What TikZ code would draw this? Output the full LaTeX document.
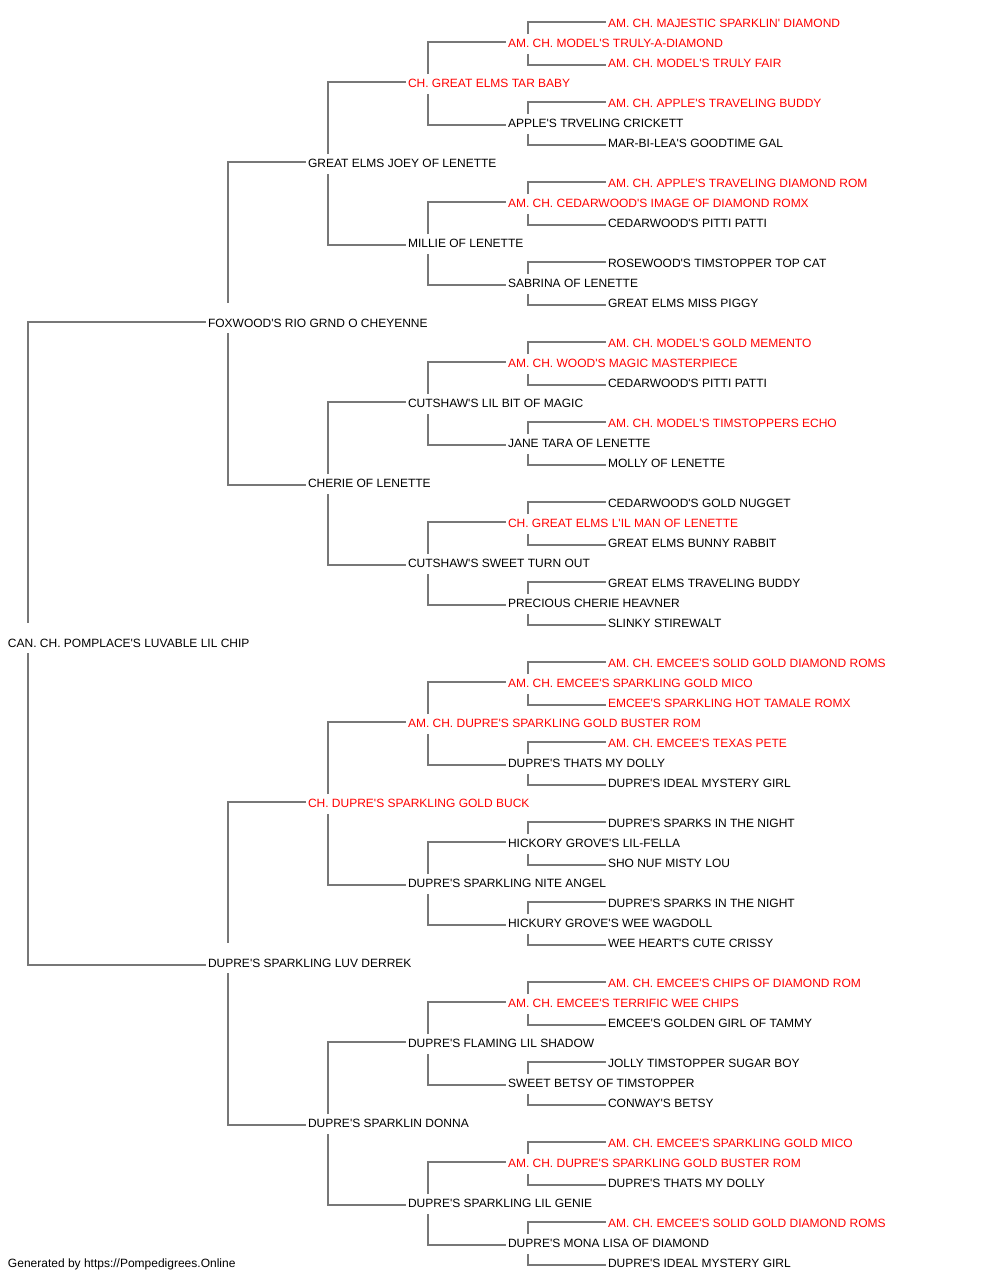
\documentclass[tikz,border=0pt]{standalone}
\usepackage{fontspec}
\setmainfont{Liberation Sans}[Ligatures=TeXOff]
\usepackage{xcolor}
\usepackage{tikz}
\definecolor{tiegray}{RGB}{119,119,119}
\definecolor{champred}{RGB}{255,0,0}

\begin{document}
\begin{tikzpicture}[
  x=1pt, y=-1pt,
  entry/.style={anchor=base west, yshift=-3.5pt, inner xsep=2pt, inner ysep=4.5pt, outer sep=0pt, text height=9pt, text depth=2pt, font=\fontsize{12}{14}\selectfont},
  headentry/.style={entry, inner ysep=3.5pt, text height=21pt},
  champ/.style={text=champred},
  tie/.style={draw=tiegray, line width=1.8pt}
]
  \useasboundingbox (0,0) rectangle (1000,1280);

  \node[headentry] (p) at (6,644) {CAN. CH. POMPLACE'S LUVABLE LIL CHIP};

  \node[headentry] (ps) at (206,324) {FOXWOOD'S RIO GRND O CHEYENNE};
  \node[headentry] (pd) at (206,964) {DUPRE'S SPARKLING LUV DERREK};

  \node[entry] (pss) at (306,164) {GREAT ELMS JOEY OF LENETTE};
  \node[entry] (psd) at (306,484) {CHERIE OF LENETTE};
  \node[entry, champ] (pds) at (306,804) {CH. DUPRE'S SPARKLING GOLD BUCK};
  \node[entry] (pdd) at (306,1124) {DUPRE'S SPARKLIN DONNA};

  \node[entry, champ] (psss) at (406,84) {CH. GREAT ELMS TAR BABY};
  \node[entry] (pssd) at (406,244) {MILLIE OF LENETTE};
  \node[entry] (psds) at (406,404) {CUTSHAW'S LIL BIT OF MAGIC};
  \node[entry] (psdd) at (406,564) {CUTSHAW'S SWEET TURN OUT};
  \node[entry, champ] (pdss) at (406,724) {AM. CH. DUPRE'S SPARKLING GOLD BUSTER ROM};
  \node[entry] (pdsd) at (406,884) {DUPRE'S SPARKLING NITE ANGEL};
  \node[entry] (pdds) at (406,1044) {DUPRE'S FLAMING LIL SHADOW};
  \node[entry] (pddd) at (406,1204) {DUPRE'S SPARKLING LIL GENIE};

  \node[entry, champ] (pssss) at (506,44) {AM. CH. MODEL'S TRULY-A-DIAMOND};
  \node[entry] (psssd) at (506,124) {APPLE'S TRVELING CRICKETT};
  \node[entry, champ] (pssds) at (506,204) {AM. CH. CEDARWOOD'S IMAGE OF DIAMOND ROMX};
  \node[entry] (pssdd) at (506,284) {SABRINA OF LENETTE};
  \node[entry, champ] (psdss) at (506,364) {AM. CH. WOOD'S MAGIC MASTERPIECE};
  \node[entry] (psdsd) at (506,444) {JANE TARA OF LENETTE};
  \node[entry, champ] (psdds) at (506,524) {CH. GREAT ELMS L'IL MAN OF LENETTE};
  \node[entry] (psddd) at (506,604) {PRECIOUS CHERIE HEAVNER};
  \node[entry, champ] (pdsss) at (506,684) {AM. CH. EMCEE'S SPARKLING GOLD MICO};
  \node[entry] (pdssd) at (506,764) {DUPRE'S THATS MY DOLLY};
  \node[entry] (pdsds) at (506,844) {HICKORY GROVE'S LIL-FELLA};
  \node[entry] (pdsdd) at (506,924) {HICKURY GROVE'S WEE WAGDOLL};
  \node[entry, champ] (pddss) at (506,1004) {AM. CH. EMCEE'S TERRIFIC WEE CHIPS};
  \node[entry] (pddsd) at (506,1084) {SWEET BETSY OF TIMSTOPPER};
  \node[entry, champ] (pddds) at (506,1164) {AM. CH. DUPRE'S SPARKLING GOLD BUSTER ROM};
  \node[entry] (pdddd) at (506,1244) {DUPRE'S MONA LISA OF DIAMOND};

  \node[entry, champ] (psssss) at (606,24) {AM. CH. MAJESTIC SPARKLIN' DIAMOND};
  \node[entry, champ] (pssssd) at (606,64) {AM. CH. MODEL'S TRULY FAIR};
  \node[entry, champ] (psssds) at (606,104) {AM. CH. APPLE'S TRAVELING BUDDY};
  \node[entry] (psssdd) at (606,144) {MAR-BI-LEA'S GOODTIME GAL};
  \node[entry, champ] (pssdss) at (606,184) {AM. CH. APPLE'S TRAVELING DIAMOND ROM};
  \node[entry] (pssdsd) at (606,224) {CEDARWOOD'S PITTI PATTI};
  \node[entry] (pssdds) at (606,264) {ROSEWOOD'S TIMSTOPPER TOP CAT};
  \node[entry] (pssddd) at (606,304) {GREAT ELMS MISS PIGGY};
  \node[entry, champ] (psdsss) at (606,344) {AM. CH. MODEL'S GOLD MEMENTO};
  \node[entry] (psdssd) at (606,384) {CEDARWOOD'S PITTI PATTI};
  \node[entry, champ] (psdsds) at (606,424) {AM. CH. MODEL'S TIMSTOPPERS ECHO};
  \node[entry] (psdsdd) at (606,464) {MOLLY OF LENETTE};
  \node[entry] (psddss) at (606,504) {CEDARWOOD'S GOLD NUGGET};
  \node[entry] (psddsd) at (606,544) {GREAT ELMS BUNNY RABBIT};
  \node[entry] (psddds) at (606,584) {GREAT ELMS TRAVELING BUDDY};
  \node[entry] (psdddd) at (606,624) {SLINKY STIREWALT};
  \node[entry, champ] (pdssss) at (606,664) {AM. CH. EMCEE'S SOLID GOLD DIAMOND ROMS};
  \node[entry, champ] (pdsssd) at (606,704) {EMCEE'S SPARKLING HOT TAMALE ROMX};
  \node[entry, champ] (pdssds) at (606,744) {AM. CH. EMCEE'S TEXAS PETE};
  \node[entry] (pdssdd) at (606,784) {DUPRE'S IDEAL MYSTERY GIRL};
  \node[entry] (pdsdss) at (606,824) {DUPRE'S SPARKS IN THE NIGHT};
  \node[entry] (pdsdsd) at (606,864) {SHO NUF MISTY LOU};
  \node[entry] (pdsdds) at (606,904) {DUPRE'S SPARKS IN THE NIGHT};
  \node[entry] (pdsddd) at (606,944) {WEE HEART'S CUTE CRISSY};
  \node[entry, champ] (pddsss) at (606,984) {AM. CH. EMCEE'S CHIPS OF DIAMOND ROM};
  \node[entry] (pddssd) at (606,1024) {EMCEE'S GOLDEN GIRL OF TAMMY};
  \node[entry] (pddsds) at (606,1064) {JOLLY TIMSTOPPER SUGAR BOY};
  \node[entry] (pddsdd) at (606,1104) {CONWAY'S BETSY};
  \node[entry, champ] (pdddss) at (606,1144) {AM. CH. EMCEE'S SPARKLING GOLD MICO};
  \node[entry] (pdddsd) at (606,1184) {DUPRE'S THATS MY DOLLY};
  \node[entry, champ] (pdddds) at (606,1224) {AM. CH. EMCEE'S SOLID GOLD DIAMOND ROMS};
  \node[entry] (pddddd) at (606,1264) {DUPRE'S IDEAL MYSTERY GIRL};

  \node[entry] (credit) at (6,1264) {Generated by https://Pompedigrees.Online};

  \draw[tie] ([xshift=22pt]p.north west) |- ([yshift=5.5pt]ps.base west) ([xshift=22pt]p.south west) |- ([yshift=2.5pt]pd.base west);
  \draw[tie] ([xshift=22pt]ps.north west) |- ([yshift=5.5pt]pss.base west) ([xshift=22pt]ps.south west) |- ([yshift=2.5pt]psd.base west);
  \draw[tie] ([xshift=22pt]pd.north west) |- ([yshift=5.5pt]pds.base west) ([xshift=22pt]pd.south west) |- ([yshift=2.5pt]pdd.base west);
  \draw[tie] ([xshift=22pt]pss.north west) |- ([yshift=5.5pt]psss.base west) ([xshift=22pt]pss.south west) |- ([yshift=2.5pt]pssd.base west);
  \draw[tie] ([xshift=22pt]psd.north west) |- ([yshift=5.5pt]psds.base west) ([xshift=22pt]psd.south west) |- ([yshift=2.5pt]psdd.base west);
  \draw[tie] ([xshift=22pt]pds.north west) |- ([yshift=5.5pt]pdss.base west) ([xshift=22pt]pds.south west) |- ([yshift=2.5pt]pdsd.base west);
  \draw[tie] ([xshift=22pt]pdd.north west) |- ([yshift=5.5pt]pdds.base west) ([xshift=22pt]pdd.south west) |- ([yshift=2.5pt]pddd.base west);
  \draw[tie] ([xshift=22pt]psss.north west) |- ([yshift=5.5pt]pssss.base west) ([xshift=22pt]psss.south west) |- ([yshift=2.5pt]psssd.base west);
  \draw[tie] ([xshift=22pt]pssd.north west) |- ([yshift=5.5pt]pssds.base west) ([xshift=22pt]pssd.south west) |- ([yshift=2.5pt]pssdd.base west);
  \draw[tie] ([xshift=22pt]psds.north west) |- ([yshift=5.5pt]psdss.base west) ([xshift=22pt]psds.south west) |- ([yshift=2.5pt]psdsd.base west);
  \draw[tie] ([xshift=22pt]psdd.north west) |- ([yshift=5.5pt]psdds.base west) ([xshift=22pt]psdd.south west) |- ([yshift=2.5pt]psddd.base west);
  \draw[tie] ([xshift=22pt]pdss.north west) |- ([yshift=5.5pt]pdsss.base west) ([xshift=22pt]pdss.south west) |- ([yshift=2.5pt]pdssd.base west);
  \draw[tie] ([xshift=22pt]pdsd.north west) |- ([yshift=5.5pt]pdsds.base west) ([xshift=22pt]pdsd.south west) |- ([yshift=2.5pt]pdsdd.base west);
  \draw[tie] ([xshift=22pt]pdds.north west) |- ([yshift=5.5pt]pddss.base west) ([xshift=22pt]pdds.south west) |- ([yshift=2.5pt]pddsd.base west);
  \draw[tie] ([xshift=22pt]pddd.north west) |- ([yshift=5.5pt]pddds.base west) ([xshift=22pt]pddd.south west) |- ([yshift=2.5pt]pdddd.base west);
  \draw[tie] ([xshift=22pt]pssss.north west) |- ([yshift=5.5pt]psssss.base west) ([xshift=22pt]pssss.south west) |- ([yshift=2.5pt]pssssd.base west);
  \draw[tie] ([xshift=22pt]psssd.north west) |- ([yshift=5.5pt]psssds.base west) ([xshift=22pt]psssd.south west) |- ([yshift=2.5pt]psssdd.base west);
  \draw[tie] ([xshift=22pt]pssds.north west) |- ([yshift=5.5pt]pssdss.base west) ([xshift=22pt]pssds.south west) |- ([yshift=2.5pt]pssdsd.base west);
  \draw[tie] ([xshift=22pt]pssdd.north west) |- ([yshift=5.5pt]pssdds.base west) ([xshift=22pt]pssdd.south west) |- ([yshift=2.5pt]pssddd.base west);
  \draw[tie] ([xshift=22pt]psdss.north west) |- ([yshift=5.5pt]psdsss.base west) ([xshift=22pt]psdss.south west) |- ([yshift=2.5pt]psdssd.base west);
  \draw[tie] ([xshift=22pt]psdsd.north west) |- ([yshift=5.5pt]psdsds.base west) ([xshift=22pt]psdsd.south west) |- ([yshift=2.5pt]psdsdd.base west);
  \draw[tie] ([xshift=22pt]psdds.north west) |- ([yshift=5.5pt]psddss.base west) ([xshift=22pt]psdds.south west) |- ([yshift=2.5pt]psddsd.base west);
  \draw[tie] ([xshift=22pt]psddd.north west) |- ([yshift=5.5pt]psddds.base west) ([xshift=22pt]psddd.south west) |- ([yshift=2.5pt]psdddd.base west);
  \draw[tie] ([xshift=22pt]pdsss.north west) |- ([yshift=5.5pt]pdssss.base west) ([xshift=22pt]pdsss.south west) |- ([yshift=2.5pt]pdsssd.base west);
  \draw[tie] ([xshift=22pt]pdssd.north west) |- ([yshift=5.5pt]pdssds.base west) ([xshift=22pt]pdssd.south west) |- ([yshift=2.5pt]pdssdd.base west);
  \draw[tie] ([xshift=22pt]pdsds.north west) |- ([yshift=5.5pt]pdsdss.base west) ([xshift=22pt]pdsds.south west) |- ([yshift=2.5pt]pdsdsd.base west);
  \draw[tie] ([xshift=22pt]pdsdd.north west) |- ([yshift=5.5pt]pdsdds.base west) ([xshift=22pt]pdsdd.south west) |- ([yshift=2.5pt]pdsddd.base west);
  \draw[tie] ([xshift=22pt]pddss.north west) |- ([yshift=5.5pt]pddsss.base west) ([xshift=22pt]pddss.south west) |- ([yshift=2.5pt]pddssd.base west);
  \draw[tie] ([xshift=22pt]pddsd.north west) |- ([yshift=5.5pt]pddsds.base west) ([xshift=22pt]pddsd.south west) |- ([yshift=2.5pt]pddsdd.base west);
  \draw[tie] ([xshift=22pt]pddds.north west) |- ([yshift=5.5pt]pdddss.base west) ([xshift=22pt]pddds.south west) |- ([yshift=2.5pt]pdddsd.base west);
  \draw[tie] ([xshift=22pt]pdddd.north west) |- ([yshift=5.5pt]pdddds.base west) ([xshift=22pt]pdddd.south west) |- ([yshift=2.5pt]pddddd.base west);
\end{tikzpicture}
\end{document}
